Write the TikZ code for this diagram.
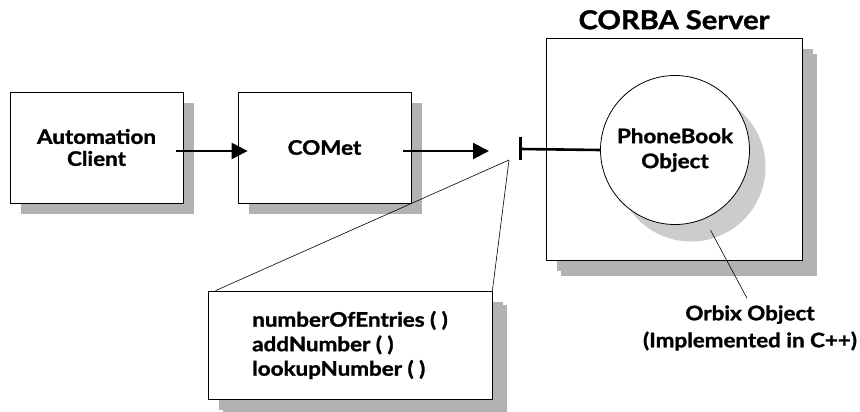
\documentclass[tikz,border=0pt]{standalone}
\usepackage{fontspec}
\newfontfamily\lbl{Lato}[FakeStretch=1.12, BoldFeatures={FakeBold=1.4}]
\usetikzlibrary{positioning,arrows.meta,shadows}

\begin{document}
\begin{tikzpicture}[x=1pt, y=-1pt,
  box/.style={draw, fill=white, line width=0.8pt, inner sep=0pt, align=center,
    minimum width=173pt, minimum height=111pt,
    font=\lbl\bfseries\fontsize{20}{22}\selectfont,
    general shadow={fill=gray!60, shadow xshift=11pt, shadow yshift=-11pt}},
  bigbox/.style={box, minimum width=256pt, minimum height=222pt,
    general shadow={fill=gray!60, shadow xshift=15pt, shadow yshift=-16pt}},
  obj/.style={circle, draw, fill=white, line width=0.8pt, inner sep=0pt,
    minimum size=149pt, align=center, font=\lbl\bfseries\fontsize{20}{25}\selectfont,
    general shadow={fill=gray!40, shadow xshift=16pt, shadow yshift=-17pt}},
  note/.style={inner sep=0pt, align=center, font=\lbl\bfseries\fontsize{20}{27}\selectfont},
  flow/.style={line width=2.2pt, -{Triangle[length=16pt, width=16pt]}},
  fine/.style={line width=0.6pt},
  bar/.style={line width=3pt}]

\useasboundingbox (0,0) rectangle (860,412);

\node[box] (client) at (96.5,147.5) {Automation\\Client};
\node[box] (comet) at (324.5,147.5) {COMet};
\node[bigbox] (server) at (674,149) {};
\node[note, font=\lbl\bfseries\fontsize{26}{30}\selectfont] (title) [above=8pt of server] {CORBA Server};
\node[obj] (phonebook) at (675,150) {PhoneBook\\Object};
\node[box, minimum width=284pt, minimum height=108pt, align=left,
  font=\lbl\bfseries\fontsize{20}{24.5}\selectfont,
  general shadow={fill=gray!60, shadow xshift=15pt, shadow yshift=-14pt}]
  (methods) at (350,345) {numberOfEntries ( )\\addNumber ( )\\lookupNumber ( )};
\node[note] (orbix) at (750,328) {Orbix Object\\(Implemented in C++)};

\coordinate (iface) at (520,149);
\coordinate (apex) at (509,160);

\draw[flow] ([shift={(-7,3.5)}]client.east) -- ([shift={(10,3.5)}]comet.west);
\draw[flow] ([shift={(-8,3.5)}]comet.east) -- ([shift={(-31,2)}]iface);
\draw[bar] ([shift={(0,-12)}]iface) -- ([shift={(0,11)}]iface);
\draw[line width=2.6pt] (iface) -- (phonebook.west);

\draw[fine] ([xshift=8pt]methods.north west) -- (apex);
\draw[fine] (methods.north east) -- (apex);
\draw[fine] ([shift={(-3,-7)}]orbix.north) -- ([shift={(10,10)}]phonebook.-70);

\end{tikzpicture}
\end{document}
